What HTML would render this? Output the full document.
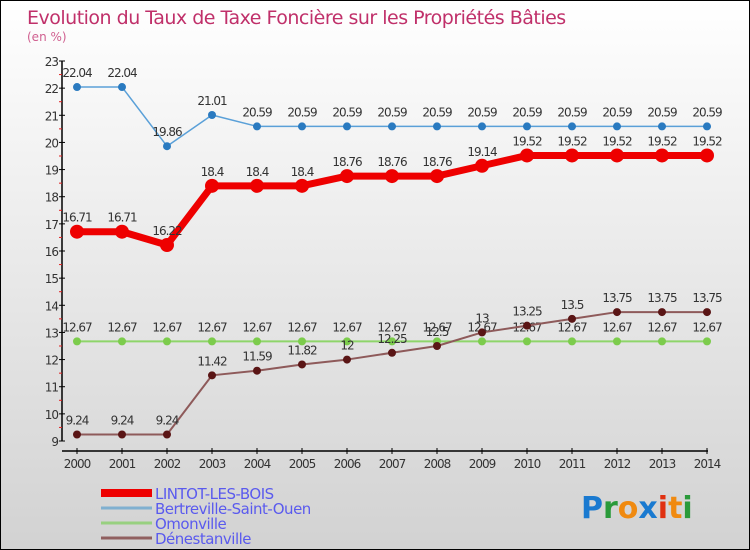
<!DOCTYPE html>
<html><head><meta charset="utf-8"><style>
body{margin:0}
#wrap{width:750px;height:550px;position:relative;box-sizing:border-box;border:1px solid #000;background:linear-gradient(#ffffff,#d2d2d2);font-family:"DejaVu Sans","Liberation Sans",sans-serif;overflow:hidden}
svg text{font-family:"DejaVu Sans","Liberation Sans",sans-serif}
</style></head><body>
<div id="wrap">
<svg id="chart" width="750" height="550">
<text x="26" y="23" font-size="19" fill="#c0306a" style="letter-spacing:-0.5px">Evolution du Taux de Taxe Foncière sur les Propriétés Bâties</text>
<text x="26" y="40" font-size="12" fill="#d06090">(en %)</text>
<g id="axes"></g><g id="series"></g><g id="legend"></g>
<text x="580" y="517" font-size="30" font-weight="bold"><tspan fill="#1a7ad0">P</tspan><tspan fill="#2a9a3a">r</tspan><tspan fill="#f08a10">o</tspan><tspan fill="#1a7ad0">x</tspan><tspan fill="#e03010">i</tspan><tspan fill="#f08a10">t</tspan><tspan fill="#2a9a3a">i</tspan></text>
</svg></div>
<script>
const years=[2000,2001,2002,2003,2004,2005,2006,2007,2008,2009,2010,2011,2012,2013,2014];
const yTicks=[9,10,11,12,13,14,15,16,17,18,19,20,21,22,23];
const lintot=[16.71,16.71,16.22,18.4,18.4,18.4,18.76,18.76,18.76,19.14,19.52,19.52,19.52,19.52,19.52];
const bertreville=[22.04,22.04,19.86,21.01,20.59,20.59,20.59,20.59,20.59,20.59,20.59,20.59,20.59,20.59,20.59];
const omonville=[12.67,12.67,12.67,12.67,12.67,12.67,12.67,12.67,12.67,12.67,12.67,12.67,12.67,12.67,12.67];
const denestanville=[9.24,9.24,9.24,11.42,11.59,11.82,12,12.25,12.5,13,13.25,13.5,13.75,13.75,13.75];
const seriesNames=["LINTOT-LES-BOIS","Bertreville-Saint-Ouen","Omonville","Dénestanville"];
const NS="http://www.w3.org/2000/svg";
const X=i=>76+i*45, Y=v=>440-(v-9)*(380/14);
function mk(tag,attrs,parent){const e=document.createElementNS(NS,tag);for(const k in attrs)e.setAttribute(k,attrs[k]);parent.appendChild(e);return e;}
const axes=document.getElementById('axes');
let a=mk('line',{x1:61,y1:60,x2:61,y2:440,stroke:'#000','stroke-width':1.5},axes);

a=mk('line',{x1:61,y1:450,x2:707,y2:450,stroke:'#000','stroke-width':1.5},axes);

yTicks.forEach((v,i)=>{
 mk('line',{x1:58,y1:Y(v),x2:64,y2:Y(v),stroke:'#000'},axes);
 if(i<yTicks.length-1)mk('line',{x1:58,y1:Y(v+0.5),x2:61,y2:Y(v+0.5),stroke:'#e02020'},axes);
 const t=mk('text',{x:57,y:Y(v)+5,'font-size':12,fill:'#333','text-anchor':'end','letter-spacing':'-1'},axes);t.textContent=v;
 
});
years.forEach((y,i)=>{
 mk('line',{x1:X(i),y1:447,x2:X(i),y2:453,stroke:'#000'},axes);
 const t=mk('text',{x:X(i),y:467,'font-size':12,fill:'#333','text-anchor':'middle','letter-spacing':'-1'},axes);t.textContent=y;
 
});
const ser=document.getElementById('series');
function draw(data,name,lc,pc,lw,r){
 const g=mk('g',{},ser);
 
 const p=mk('polyline',{points:data.map((v,i)=>X(i)+','+Y(v)).join(' '),fill:'none',stroke:lc,'stroke-width':lw,'stroke-linejoin':'round'},g);
 data.forEach((v,i)=>{
  const c=mk('circle',{cx:X(i),cy:Y(v),r:r,fill:pc},g);
  
  const t=mk('text',{x:X(i),y:Y(v)-10,'font-size':12,fill:'#333','text-anchor':'middle','letter-spacing':'-1'},g);t.textContent=v;
  
 });
}
draw(omonville,'series-omonville','#8ed56a','#7ccc4c',2,4);
draw(denestanville,'series-denestanville','#8e5a5a','#5a1515',2,4);
draw(bertreville,'series-bertreville','#5aa0d8','#2a7ac0',1.5,4);
draw(lintot,'series-lintot','#ee0000','#ee0000',7,7);
const leg=document.getElementById('legend');
const lcol=['#ee0000','#80b0d0','#98d080','#906060'],lw=[8,3,3,3];
seriesNames.forEach((n,i)=>{
 const y=492+i*15;
 const g=mk('g',{},leg);
 
 mk('line',{x1:100,y1:y,x2:151,y2:y,stroke:lcol[i],'stroke-width':lw[i]},g);
 const t=mk('text',{x:154,y:y+6,'font-size':15,fill:'#5a5aee','letter-spacing':'-0.5'},g);t.textContent=n;
});
</script>
</body></html>
